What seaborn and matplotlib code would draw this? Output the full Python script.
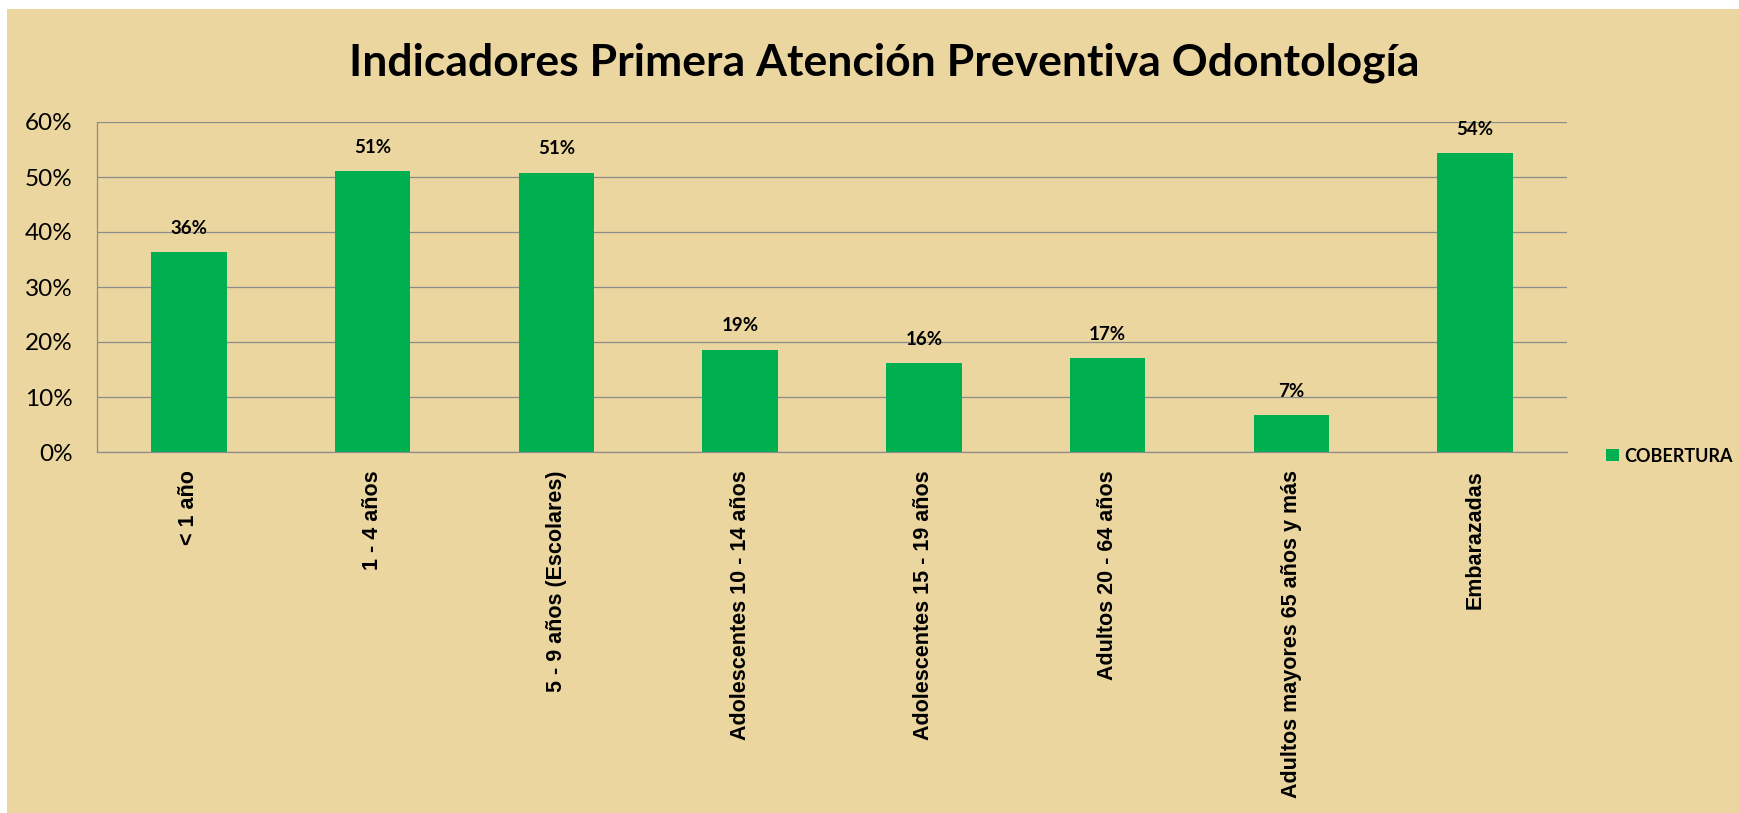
import matplotlib
matplotlib.use('Agg')
import matplotlib.pyplot as plt
import matplotlib.patches as mpatches
from matplotlib.ticker import FixedLocator, PercentFormatter
import pandas as pd
import seaborn as sns

categorias = ['< 1 año', '1 - 4 años', '5 - 9 años (Escolares)', 'Adolescentes 10 - 14 años',
              'Adolescentes 15 - 19 años', 'Adultos 20 - 64 años',
              'Adultos mayores 65 años y más', 'Embarazadas']
cobertura = [0.364, 0.510, 0.508, 0.186, 0.161, 0.171, 0.067, 0.544]
serie = 'COBERTURA'
titulo = 'Indicadores Primera Atención Preventiva Odontología'

VERDE = '#00B050'
FONDO = '#EBD6A0'
GRIS = '#8C8C8C'

df = pd.DataFrame({'categoria': categorias, 'valor': cobertura, 'serie': serie})

sns.set_style('white')
plt.rcParams['font.family'] = ['Lato', 'DejaVu Sans']
plt.rcParams['text.color'] = 'black'
plt.rcParams['xtick.color'] = 'black'
plt.rcParams['ytick.color'] = 'black'

W, H = 1739, 813
fig = plt.figure(figsize=(W / 100, H / 100), dpi=100, facecolor='white')
# fondo tipo pergamino (borde blanco arriba e izquierda)
fig.patches.append(mpatches.Rectangle((7 / W, 0), 1, 1 - 9 / H, transform=fig.transFigure,
                                      facecolor=FONDO, edgecolor='none', zorder=-10))

ax = fig.add_axes([97 / W, 1 - 452 / H, (1567 - 97) / W, (452 - 122) / H])
ax.set_facecolor('none')

sns.barplot(data=df, x='categoria', y='valor', hue='serie', palette={serie: VERDE},
            width=0.41, dodge=False, saturation=1, ax=ax, legend=False,
            edgecolor='none', linewidth=0)

ax.set_ylim(0, 0.6)
ax.set_xlim(-0.5, len(categorias) - 0.5)
ax.set_yticks([0, 0.1, 0.2, 0.3, 0.4, 0.5, 0.6])
ax.yaxis.set_major_formatter(PercentFormatter(1.0, decimals=0))
ax.grid(axis='y', color=GRIS, linewidth=0.9)
ax.set_axisbelow(True)
ax.set_xlabel('')
ax.set_ylabel('')

for s in ['top', 'right']:
    ax.spines[s].set_visible(False)
for s in ['left', 'bottom']:
    ax.spines[s].set_color(GRIS)
    ax.spines[s].set_linewidth(0.9)

ax.tick_params(axis='y', length=6.5, width=0.9, color=GRIS, labelcolor='black',
               pad=11, labelsize=17.5)
ax.set_xticks(range(len(categorias)))
ax.set_xticklabels(categorias, rotation=90, fontsize=15.5, fontweight='bold',
                   family=['Liberation Sans', 'DejaVu Sans'], va='top', ha='center')
ax.tick_params(axis='x', length=0, pad=13, labelcolor='black')
ax.xaxis.set_minor_locator(FixedLocator([i - 0.5 for i in range(len(categorias) + 1)]))
ax.tick_params(axis='x', which='minor', length=4.5, width=0.9, color=GRIS)

for cont in ax.containers:
    ax.bar_label(cont, labels=[f'{v * 100:.0f}%' for v in cont.datavalues],
                 padding=11, fontsize=13.5, fontweight='bold', color='black')

handle = mpatches.Patch(facecolor=VERDE, edgecolor='none', label=serie)
fig.legend(handles=[handle], loc='center left', bbox_to_anchor=(1606 / W, 1 - 456 / H),
           frameon=False, handlelength=0.7, handleheight=0.7, handletextpad=0.3,
           borderpad=0, borderaxespad=0, prop={'weight': 'bold', 'size': 13})

fig.text(884 / W, 1 - 63 / H, titulo, ha='center', va='center', color='black',
         fontsize=32, fontweight='bold')

fig.savefig('out.png', dpi=100, facecolor=fig.get_facecolor())
